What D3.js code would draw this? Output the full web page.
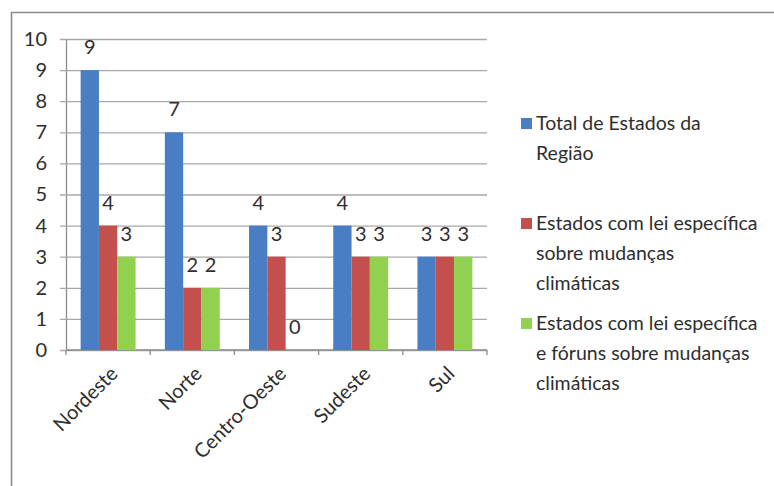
<!DOCTYPE html>
<html>
<head>
<meta charset="utf-8">
<script src="https://cdn.jsdelivr.net/npm/d3@7"></script>
<style>
  body { margin: 0; background: #fff; }
  svg { display: block; }
</style>
</head>
<body>
<div id="chart"></div>
<script>
// dados por região
var categories = ["Nordeste", "Norte", "Centro-Oeste", "Sudeste", "Sul"];
var totalEstados = [9, 7, 4, 4, 3];
var comLei = [4, 2, 3, 3, 3];
var comLeiForuns = [3, 2, 0, 3, 3];
var yTicks = [0, 1, 2, 3, 4, 5, 6, 7, 8, 9, 10];

var seriesNames = [
  ["Total de Estados da", "Região"],
  ["Estados com lei específica", "sobre mudanças", "climáticas"],
  ["Estados com lei específica", "e fóruns sobre mudanças", "climáticas"]
];
var colors = ["#4a7ec4", "#c4504d", "#92d050"];
var series = [totalEstados, comLei, comLeiForuns];

var W = 774, H = 486;
var plot = {left: 66, right: 487, top: 39, bottom: 350};
var font = "Lato, 'Liberation Sans', sans-serif";
var txt = '#2e2e2e';

var svg = d3.select('#chart')
  .append('svg')
  .attr('width', W)
  .attr('height', H)
  .style('background', '#fff')
  .style('font-family', font);

// moldura
svg.append('path')
  .attr('d', 'M11.5,' + H + 'V12.5H' + W)
  .attr('fill', 'none')
  .attr('stroke', '#8a8a8a')
  .attr('stroke-width', 1.6);

var x0 = d3.scaleBand()
  .domain(categories)
  .range([plot.left, plot.right])
  .padding(0);

var x1 = d3.scaleBand()
  .domain([0, 1, 2])
  .range([0, x0.bandwidth()])
  .paddingInner(0)
  .paddingOuter(0.8);

var y = d3.scaleLinear()
  .domain([0, 10])
  .range([plot.bottom, plot.top]);

// grade + eixo y
var yAxis = svg.append('g')
  .attr('transform', 'translate(' + plot.left + ',0)')
  .call(d3.axisLeft(y)
    .tickValues(yTicks)
    .tickSizeInner(-(plot.right - plot.left))
    .tickSizeOuter(0)
    .tickPadding(19));
yAxis.select('.domain').attr('stroke', '#8c8c8c').attr('stroke-width', 1.3);
yAxis.selectAll('.tick line')
  .attr('x1', -6)
  .attr('stroke', '#a8a8a8')
  .attr('stroke-width', 1.3);
yAxis.selectAll('.tick text')
  .attr('fill', txt)
  .style('font-family', font)
  .style('font-size', '20px');

// eixo x
var xAxis = svg.append('g')
  .attr('transform', 'translate(0,' + plot.bottom + ')');
xAxis.append('line')
  .attr('x1', plot.left).attr('x2', plot.right)
  .attr('stroke', '#8c8c8c').attr('stroke-width', 1.3);
var tickXs = categories.map(function(c) { return x0(c); }).concat([plot.right]);
xAxis.selectAll('line.tk')
  .data(tickXs)
  .enter().append('line')
    .attr('class', 'tk')
    .attr('x1', function(d) { return d; })
    .attr('x2', function(d) { return d; })
    .attr('y1', 0).attr('y2', 5)
    .attr('stroke', '#8c8c8c').attr('stroke-width', 1.3);
xAxis.selectAll('text')
  .data(categories)
  .enter().append('text')
    .attr('transform', function(d) {
      return 'translate(' + (x0(d) + x0.bandwidth() / 2 + 6) + ',20) rotate(-45)';
    })
    .attr('text-anchor', 'end')
    .attr('dy', '0.35em')
    .attr('fill', txt)
    .style('font-size', '20px')
    .text(function(d) { return d; });

// barras
var groups = svg.selectAll('g.grp')
  .data(categories)
  .enter().append('g')
    .attr('class', 'grp')
    .attr('transform', function(d) { return 'translate(' + x0(d) + ',0)'; });

groups.selectAll('rect')
  .data(function(d, i) {
    return series.map(function(s, k) { return {k: k, v: s[i]}; });
  })
  .enter().append('rect')
    .attr('x', function(d) { return x1(d.k); })
    .attr('width', x1.bandwidth())
    .attr('y', function(d) { return y(d.v); })
    .attr('height', function(d) { return y(0) - y(d.v); })
    .attr('fill', function(d) { return colors[d.k]; });

groups.selectAll('text')
  .data(function(d, i) {
    return series.map(function(s, k) { return {k: k, v: s[i]}; });
  })
  .enter().append('text')
    .attr('x', function(d) { return x1(d.k) + x1.bandwidth() / 2; })
    .attr('y', function(d) { return y(d.v) - 16; })
    .attr('text-anchor', 'middle')
    .attr('fill', txt)
    .style('font-size', '20px')
    .text(function(d) { return d.v; });

// legenda
var legend = svg.selectAll('g.leg')
  .data(seriesNames)
  .enter().append('g')
    .attr('class', 'leg')
    .attr('transform', function(d, i) { return 'translate(521,' + (123 + i * 100) + ')'; });
legend.append('rect')
  .attr('x', 0).attr('y', -5)
  .attr('width', 11).attr('height', 11)
  .attr('fill', function(d, i) { return colors[i]; });
legend.append('text')
  .attr('x', 15)
  .attr('fill', txt)
  .style('font-size', '19.5px')
  .selectAll('tspan')
  .data(function(d) { return d; })
  .enter().append('tspan')
    .attr('x', 15)
    .attr('y', function(d, i) { return i * 30; })
    .attr('dy', '0.35em')
    .text(function(d) { return d; });
</script>
</body>
</html>
